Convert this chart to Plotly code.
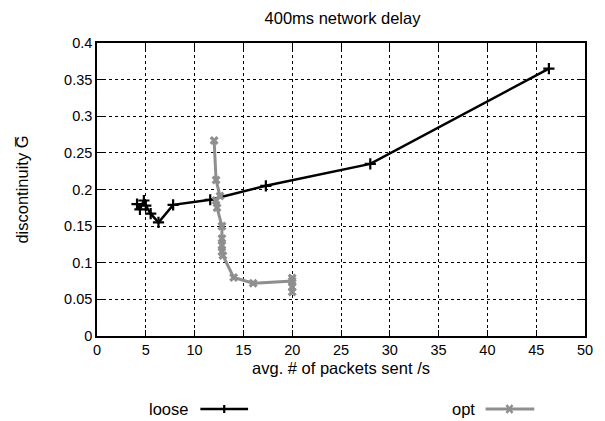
import plotly.graph_objects as go

loose_x = [4.1, 4.4, 4.8, 5.0, 5.5, 6.3, 7.8, 11.6, 17.3, 28.0, 46.3]
loose_y = [0.180, 0.173, 0.185, 0.178, 0.167, 0.155, 0.179, 0.186, 0.205, 0.235, 0.365]

opt_x = [12.0, 12.2, 12.6, 12.2, 12.3, 12.8, 12.8, 12.8, 12.8, 12.9, 14.0, 16.0, 20.0, 20.0, 20.0, 20.0]
opt_y = [0.267, 0.213, 0.191, 0.185, 0.175, 0.150, 0.133, 0.124, 0.115, 0.110, 0.080, 0.072, 0.075, 0.079, 0.067, 0.060]

x_ticks = [0, 5, 10, 15, 20, 25, 30, 35, 40, 45, 50]
y_ticks = [0, 0.05, 0.1, 0.15, 0.2, 0.25, 0.3, 0.35, 0.4]
y_labels = ["0", "0.05", "0.1", "0.15", "0.2", "0.25", "0.3", "0.35", "0.4"]

GRAY = "#8f8f8f"
FONT = "Liberation Sans, Arial, sans-serif"
TICK_FS = 14.5
TXT_FS = 16.5

fig = go.Figure()
fig.add_trace(go.Scatter(
    x=loose_x, y=loose_y, mode="lines+markers", name="loose",
    line=dict(color="black", width=2.5),
    marker=dict(symbol="cross-thin", size=8, line=dict(color="black", width=2.2)),
    showlegend=False))
fig.add_trace(go.Scatter(
    x=opt_x, y=opt_y, mode="lines+markers", name="opt",
    line=dict(color=GRAY, width=3),
    marker=dict(symbol="x", size=8, color=GRAY, line=dict(width=0)),
    showlegend=False))

axis_common = dict(
    showline=True, linecolor="black", linewidth=1.5, mirror="ticks",
    ticks="inside", ticklen=6, tickcolor="black", tickwidth=1,
    showgrid=True, gridcolor="black", griddash="dot", gridwidth=1,
    zeroline=False, tickfont=dict(size=TICK_FS, color="black", family=FONT),
)

fig.update_xaxes(range=[0, 50], tickvals=x_ticks,
                 title=dict(text="avg. # of packets sent /s", font=dict(size=TXT_FS, color="black", family=FONT), standoff=5),
                 **axis_common)
fig.update_yaxes(range=[0, 0.4], tickvals=y_ticks, ticktext=y_labels,
                 title=dict(text="discontinuity G\u0305", font=dict(size=TXT_FS, color="black", family=FONT), standoff=31),
                 **axis_common)

# the page body adds an 8px offset; the figure is sized to compensate
OFF = 8
W, H = 605 - OFF, 421 - OFF
ml, mr, mt, mb = 97 - OFF, 17, 43 - OFF, 85
pw, ph = W - ml - mr, H - mt - mb

def px(xp):
    return (xp - OFF - ml) / pw

def py(yp):
    return (H - mb - (yp - OFF)) / ph

ly = 409
shapes = [
    dict(type="line", xref="paper", yref="paper", x0=px(201), x1=px(249), y0=py(ly), y1=py(ly),
         line=dict(color="black", width=2.5)),
    dict(type="line", xref="paper", yref="paper", x0=px(225), x1=px(225), y0=py(ly - 4), y1=py(ly + 4),
         line=dict(color="black", width=2.2)),
    dict(type="line", xref="paper", yref="paper", x0=px(488), x1=px(537), y0=py(ly), y1=py(ly),
         line=dict(color=GRAY, width=3)),
    dict(type="line", xref="paper", yref="paper", x0=px(509), x1=px(515), y0=py(ly - 4), y1=py(ly + 4),
         line=dict(color=GRAY, width=2.5)),
    dict(type="line", xref="paper", yref="paper", x0=px(509), x1=px(515), y0=py(ly + 4), y1=py(ly - 4),
         line=dict(color=GRAY, width=2.5)),
]
annotations = [
    dict(text="loose", xref="paper", yref="paper", x=px(191), y=py(ly), xanchor="right", yanchor="middle",
         showarrow=False, font=dict(size=TXT_FS, color="black", family=FONT)),
    dict(text="opt", xref="paper", yref="paper", x=px(479), y=py(ly), xanchor="right", yanchor="middle",
         showarrow=False, font=dict(size=TXT_FS, color="black", family=FONT)),
]

fig.update_layout(
    width=W, height=H,
    margin=dict(l=ml, r=mr, t=mt, b=mb),
    paper_bgcolor="white", plot_bgcolor="white",
    title=dict(text="400ms network delay", x=(ml + pw / 2) / W, xanchor="center",
               y=1 - 4 / H, yanchor="top",
               font=dict(size=TXT_FS, color="black", family=FONT)),
    shapes=shapes, annotations=annotations,
    font=dict(family=FONT, color="black"),
)

fig.write_html("out.html")
